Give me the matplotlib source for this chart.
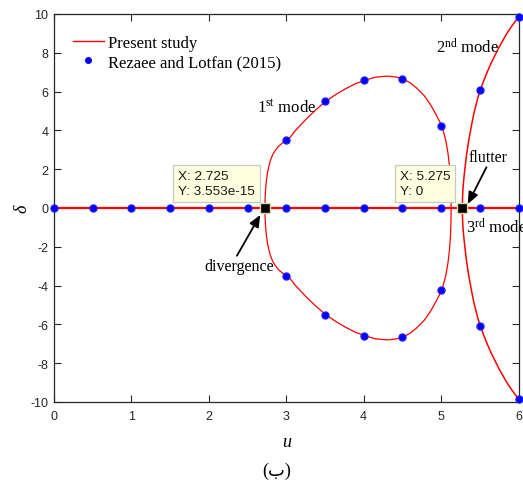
import matplotlib
matplotlib.use("Agg")
import matplotlib.pyplot as plt
from matplotlib.lines import Line2D

plt.rcParams["mathtext.fontset"] = "custom"
plt.rcParams["mathtext.rm"] = "Liberation Serif"
plt.rcParams["mathtext.it"] = "Liberation Serif:italic"
plt.rcParams["axes.unicode_minus"] = False

# ---- data -------------------------------------------------------------
# zero-growth branch (present study)
zero_u = [0.0, 6.0]
zero_d = [0.0, 0.0]

# first mode loop (upper half; lower half is its mirror image)
mode1_u = [2.725, 2.726, 2.729, 2.735, 2.743, 2.755, 2.772, 2.795, 2.825,
           2.86, 2.90, 2.95, 3.02, 3.12, 3.25, 3.38, 3.51, 3.64, 3.76,
           3.88, 4.01, 4.15, 4.30, 4.42, 4.51, 4.60, 4.68, 4.78, 4.86,
           4.93, 5.01, 5.06, 5.09, 5.11, 5.122, 5.128, 5.13]
mode1_d = [0.0, 0.35, 0.7, 1.05, 1.4, 1.75, 2.1, 2.45, 2.75,
           2.98, 3.18, 3.35, 3.49, 4.0, 4.55, 5.05, 5.5, 5.85, 6.13,
           6.38, 6.58, 6.74, 6.80, 6.75, 6.65, 6.45, 6.2, 5.8, 5.35,
           4.85, 4.24, 3.5, 2.8, 2.1, 1.4, 0.7, 0.0]

# second mode (upper half; lower half is its mirror image)
mode2_u = [5.275, 5.276, 5.28, 5.287, 5.296, 5.307, 5.32, 5.335, 5.352,
           5.372, 5.395, 5.42, 5.45, 5.48, 5.505, 5.55, 5.60, 5.65, 5.70,
           5.75, 5.80, 5.85, 5.90, 5.95, 6.0]
mode2_d = [0.0, 0.4, 0.8, 1.2, 1.6, 2.0, 2.45, 2.9, 3.35,
           3.8, 4.3, 4.8, 5.3, 5.75, 6.07, 6.55, 7.05, 7.5, 7.9,
           8.3, 8.65, 9.0, 9.3, 9.58, 9.83]

# Rezaee and Lotfan (2015)
ref_axis_u = [0.0, 0.5, 1.0, 1.5, 2.0, 2.5, 3.0, 3.5, 4.0, 4.5, 5.0, 5.5, 6.0]
ref_mode1_u = [3.0, 3.5, 4.0, 4.5, 5.0]
ref_mode1_d = [3.49, 5.5, 6.58, 6.65, 4.24]
ref_mode2_u = [5.5, 6.0]
ref_mode2_d = [6.07, 9.83]

# critical points (data tips)
tip_u = [2.725, 5.275]
tip_d = [3.553e-15, 0.0]

x_ticks = [0, 1, 2, 3, 4, 5, 6]
y_ticks = [-10, -8, -6, -4, -2, 0, 2, 4, 6, 8, 10]

# ---- figure -----------------------------------------------------------
fig = plt.figure(figsize=(5.23, 4.81), dpi=100)
ax = fig.add_axes([54 / 523, 1 - 403 / 481, 464.5 / 523, 388 / 481])

red = "#ff0000"
ax.plot(zero_u, zero_d, color=red, lw=1.6, zorder=2)
ax.plot(mode1_u, mode1_d, color=red, lw=0.9, zorder=2)
ax.plot(mode1_u, [-d for d in mode1_d], color=red, lw=0.9, zorder=2)
ax.plot(mode2_u, mode2_d, color=red, lw=1.1, zorder=2)
ax.plot(mode2_u, [-d for d in mode2_d], color=red, lw=1.1, zorder=2)

blue = "#0000ff"
dot_kw = dict(ls="none", marker="o", ms=5, color=blue, mec="#1a1aff",
              zorder=4, clip_on=False)
ax.plot(ref_axis_u, [0.0] * len(ref_axis_u), **dot_kw)
ax.plot(ref_mode1_u, ref_mode1_d, **dot_kw)
ax.plot(ref_mode1_u, [-d for d in ref_mode1_d], **dot_kw)
ax.plot(ref_mode2_u, ref_mode2_d, **dot_kw)
ax.plot(ref_mode2_u, [-d for d in ref_mode2_d], **dot_kw)

ax.plot(tip_u, tip_d, ls="none", marker="s", ms=7, color="black",
        mec="#d8d8a8", mew=1.0, zorder=6)

# data tip boxes
tip_offsets = [(-10, 11), (-12, 11)]
for u, d, off in zip(tip_u, tip_d, tip_offsets):
    ax.annotate(f"X: {u:g}\nY: {d:.4g}", xy=(u, d), xytext=off,
                textcoords="offset pixels", ha="right", va="bottom",
                multialignment="left", fontsize=9.7,
                family="Liberation Sans", color="#1a1a1a",
                linespacing=1.35, zorder=7,
                bbox=dict(boxstyle="square,pad=0.37", fc="#ffffe1",
                          ec="#c8c8c0", lw=0.9))

# arrows and labels
arrow_kw = dict(arrowstyle="-|>,head_length=0.7,head_width=0.3",
                color="black", lw=1.3, shrinkA=0, shrinkB=0)
ax.annotate("", xy=(2.664, -0.36), xytext=(2.363, -2.46),
            arrowprops=arrow_kw, zorder=8)
ax.text(2.39, -2.97, "divergence", ha="center", va="center",
        family="Liberation Serif", fontsize=11.5)
ax.annotate("", xy=(5.345, 0.21), xytext=(5.586, 2.10),
            arrowprops=arrow_kw, zorder=8)
ax.text(5.60, 2.63, "flutter", ha="center", va="center",
        family="Liberation Serif", fontsize=11.5)

mode_kw = dict(ha="left", va="center", family="Liberation Serif", fontsize=12,
               clip_on=False)
ax.text(2.625, 5.2, r"1$^{\mathrm{st}}$ mode", **mode_kw)
ax.text(4.94, 8.3, r"2$^{\mathrm{nd}}$ mode", **mode_kw)
ax.text(5.327, -0.98, r"3$^{\mathrm{rd}}$ mode", **mode_kw)

# axes styling
ax.set_xlim(0, 6)
ax.set_ylim(-10, 10)
ax.set_xticks(x_ticks)
ax.set_yticks(y_ticks)
ax.tick_params(direction="in", length=5, width=0.8, top=True, right=True,
               labelsize=9, colors="#262626")
ax.tick_params(axis="x", pad=6)
ax.tick_params(axis="y", pad=4)
for lab in ax.get_xticklabels() + ax.get_yticklabels():
    lab.set_family("Liberation Sans")
for sp in ax.spines.values():
    sp.set_color("#262626")
    sp.set_linewidth(0.9)

ax.set_xlabel("u", family="Liberation Serif", style="italic", fontsize=13,
              labelpad=8)
ax.set_ylabel("δ", family="Liberation Serif", style="italic", fontsize=13,
              labelpad=0)

handles = [Line2D([], [], color=red, lw=1.0),
           Line2D([], [], ls="none", marker="o", ms=4, color=blue)]
ax.legend(handles, ["Present study", "Rezaee and Lotfan (2015)"],
          loc="upper left", bbox_to_anchor=(0.040, 0.947), frameon=False,
          prop=dict(family="Liberation Serif", size=12), handlelength=1.9,
          handletextpad=0.2, labelspacing=0.2, borderpad=0, borderaxespad=0,
          numpoints=1)

fig.text(277 / 523, 1 - 471 / 481, "(ب)", ha="center", va="center",
         family=["Liberation Serif", "DejaVu Sans"], fontsize=13)

fig.savefig("out.png", dpi=100)
